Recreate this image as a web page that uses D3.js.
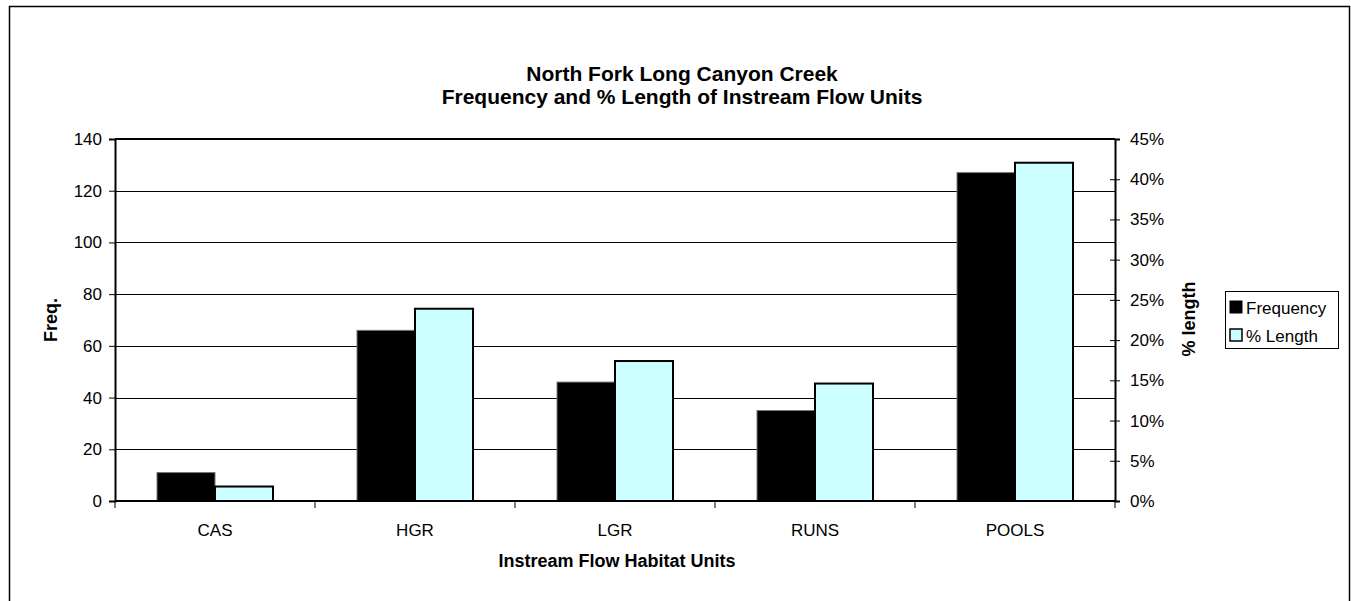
<!DOCTYPE html>
<html><head><meta charset="utf-8">
<script src="https://cdn.jsdelivr.net/npm/d3@7"></script>
<style>
html,body{margin:0;padding:0;background:#fff;}
text{font-family:"Liberation Sans",Arial,sans-serif;fill:#000;}
</style></head>
<body><svg id="c" width="1351" height="601"></svg>
<script>
const categories = ["CAS","HGR","LGR","RUNS","POOLS"];
const frequency = [11, 66, 46, 35, 127];
const pctLength = [0.018, 0.239, 0.174, 0.146, 0.4205];
const freqTicks = [0,20,40,60,80,100,120,140];
const pctTicks = [0,0.05,0.10,0.15,0.20,0.25,0.30,0.35,0.40,0.45];
const seriesNames = ["Frequency","% Length"];
const seriesColors = ["#000000","#CCFFFF"];
const titleLines = ["North Fork Long Canyon Creek","Frequency and % Length of Instream Flow Units"];

const svg = d3.select("#c");
const L = 115, R = 1115, T = 139, B = 501;
const FS = 17;

// outer border
svg.append("rect").attr("x",9.5).attr("y",6.5).attr("width",1340).attr("height",620)
  .attr("fill","none").attr("stroke","#000").attr("stroke-width",1.5);

const x = d3.scaleBand().domain(categories).range([L,R]).paddingInner(0.42).paddingOuter(0.21);
const xs = d3.scaleBand().domain(seriesNames).range([0,x.bandwidth()]).padding(0);
const yL = d3.scaleLinear().domain([0,140]).range([B,T]);
const yR = d3.scaleLinear().domain([0,0.45]).range([B,T]);

// gridlines
svg.append("g").selectAll("line").data(freqTicks.slice(1,-1)).join("line")
  .attr("x1",L).attr("x2",R).attr("y1",d=>Math.round(yL(d))+0.5).attr("y2",d=>Math.round(yL(d))+0.5)
  .attr("stroke","#000").attr("stroke-width",1);
// top border
svg.append("line").attr("x1",L).attr("x2",R).attr("y1",T).attr("y2",T).attr("stroke","#000").attr("stroke-width",2);

// bars
const data = categories.map((c,i)=>({c, vals:[{s:seriesNames[0],v:yL(frequency[i])},{s:seriesNames[1],v:yR(pctLength[i])}]}));
const g = svg.append("g").selectAll("g").data(data).join("g").attr("transform",d=>`translate(${x(d.c)},0)`);
g.selectAll("rect").data(d=>d.vals).join("rect")
  .attr("x",d=>xs(d.s)).attr("width",xs.bandwidth())
  .attr("y",d=>d.v).attr("height",d=>B-d.v)
  .attr("fill",(d,i)=>seriesColors[i])
  .attr("stroke",(d,i)=>i===0?"#777":"#000")
  .attr("stroke-width",(d,i)=>i===0?1:2);

// left axis
const axL = svg.append("g").attr("transform",`translate(${L},0)`)
  .call(d3.axisLeft(yL).tickValues(freqTicks).tickSize(6).tickPadding(7));
axL.select(".domain").attr("stroke-width",2);
axL.selectAll("text").attr("font-size",FS);

// right axis
const axR = svg.append("g").attr("transform",`translate(${R},0)`)
  .call(d3.axisRight(yR).tickValues(pctTicks).tickFormat(d3.format(".0%")).tickSize(5).tickPadding(10));
axR.select(".domain").attr("stroke-width",2);
axR.selectAll(".tick line").attr("x1",-5);
axR.selectAll("text").attr("font-size",FS);

// bottom axis
const xEdge = d3.scaleLinear().domain([0,categories.length]).range([L,R]);
svg.append("line").attr("x1",L).attr("x2",R).attr("y1",B).attr("y2",B).attr("stroke","#000").attr("stroke-width",2);
svg.append("g").selectAll("line").data(d3.range(categories.length+1)).join("line")
  .attr("x1",d=>xEdge(d)).attr("x2",d=>xEdge(d)).attr("y1",B).attr("y2",B+7).attr("stroke","#000");
svg.append("g").selectAll("text").data(categories).join("text")
  .attr("x",d=>x(d)+x.bandwidth()/2).attr("y",536).attr("text-anchor","middle").attr("font-size",FS).text(d=>d);

// titles
svg.append("text").attr("x",617).attr("y",567).attr("text-anchor","middle").attr("font-size",18).attr("font-weight","bold").text("Instream Flow Habitat Units");
svg.selectAll(".tl").data(titleLines).join("text").attr("class","tl")
  .attr("x",682).attr("y",(d,i)=>81+i*23).attr("text-anchor","middle").attr("font-size",21).attr("font-weight","bold").text(d=>d);
svg.append("text").attr("transform","translate(57,320) rotate(-90)").attr("text-anchor","middle").attr("font-size",18).attr("font-weight","bold").text("Freq.");
svg.append("text").attr("transform","translate(1195,319) rotate(-90)").attr("text-anchor","middle").attr("font-size",18).attr("font-weight","bold").text("% length");

// legend
const lg = svg.append("g");
lg.append("rect").attr("x",1225.5).attr("y",291.5).attr("width",113).attr("height",57).attr("fill","#fff").attr("stroke","#000");
seriesNames.forEach((s,i)=>{
  lg.append("rect").attr("x",1230).attr("y",301+i*28).attr("width",12).attr("height",12)
    .attr("fill",seriesColors[i]).attr("stroke","#000").attr("stroke-width",i===0?1:1.5);
  lg.append("text").attr("x",1246).attr("y",314+i*28).attr("font-size",FS).text(s);
});
</script></body></html>
